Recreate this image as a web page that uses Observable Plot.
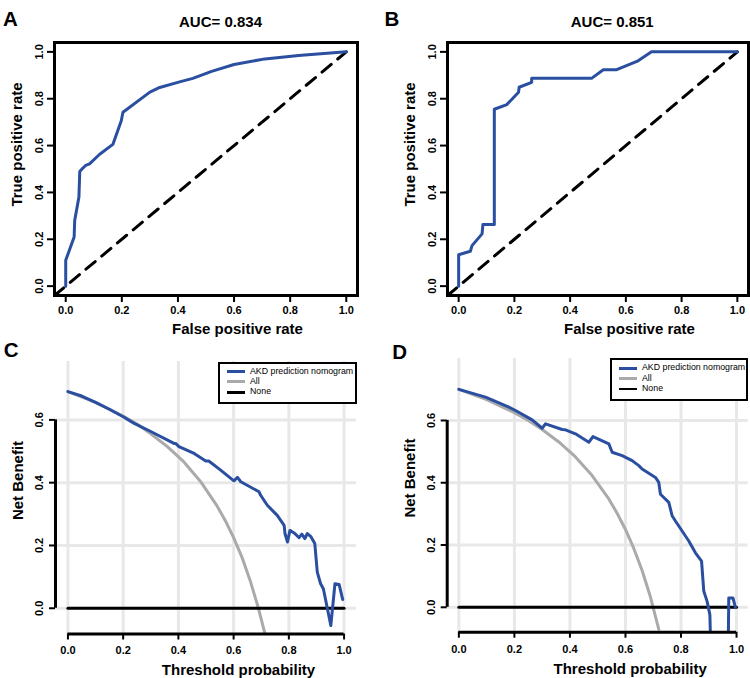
<!DOCTYPE html>
<html>
<head>
<meta charset="utf-8">
<script src="https://cdn.jsdelivr.net/npm/d3@7"></script>
<script src="https://cdn.jsdelivr.net/npm/@observablehq/plot@0.6"></script>
<style>
  body { margin: 0; background: #fff; }
  #fig { position: relative; width: 750px; height: 678px; overflow: hidden; background: #fff;
         font-family: "Liberation Sans", Arial, sans-serif; }
  .panel { position: absolute; }
  .panel svg { overflow: visible; }
  .legend { position: absolute; border: 2px solid #000; background: #fff; box-sizing: border-box;
            font-size: 8.8px; font-family: "Liberation Sans", Arial, sans-serif; color: #000; }
  .legend .row { position: absolute; left: 0; height: 10px; width: 100%; }
  .legend .sw { position: absolute; left: 7px; width: 18px; height: 2.8px; top: 3.6px; }
  .legend .lb { position: absolute; left: 30px; top: -1px; line-height: 11px; white-space: nowrap; }
</style>
</head>
<body>
<div id="fig"></div>
<script>
// ---------------- data ----------------
const rocTicks = [0, 0.2, 0.4, 0.6, 0.8, 1.0];
const dcaXTicks = [0, 0.2, 0.4, 0.6, 0.8, 1.0];
const dcaYTicks = [0, 0.2, 0.4, 0.6];

const aucA = "AUC= 0.834";
const aucB = "AUC= 0.851";
const legendLabels = ["AKD prediction nomogram", "All", "None"];

// ROC, panel A (training)
const rocA_fpr = [0, 0, 0.03, 0.032, 0.047, 0.05, 0.062, 0.071, 0.085, 0.12, 0.168, 0.198, 0.204, 0.3, 0.335, 0.406, 0.453, 0.52, 0.6, 0.71, 0.83, 1.0];
const rocA_tpr = [0, 0.11, 0.21, 0.28, 0.38, 0.489, 0.505, 0.515, 0.522, 0.562, 0.605, 0.706, 0.742, 0.828, 0.848, 0.872, 0.887, 0.917, 0.946, 0.97, 0.985, 1.0];

// ROC, panel B (validation)
const rocB_fpr = [0, 0, 0.042, 0.048, 0.084, 0.087, 0.128, 0.128, 0.173, 0.215, 0.217, 0.262, 0.262, 0.477, 0.519, 0.567, 0.644, 0.692, 1.0];
const rocB_tpr = [0, 0.134, 0.149, 0.173, 0.223, 0.263, 0.263, 0.755, 0.775, 0.828, 0.849, 0.870, 0.887, 0.887, 0.924, 0.924, 0.962, 1.0, 1.0];

// reference diagonal
const diagX = [-0.04, 1.0];
const diagY = [-0.04, 1.0];

// Decision curve, panel C
const dcaC_thr = [0, 0.05, 0.1, 0.15, 0.2, 0.24, 0.3, 0.384, 0.39, 0.402, 0.457, 0.499, 0.51, 0.553, 0.601, 0.614, 0.626, 0.692, 0.698, 0.71, 0.722, 0.758, 0.783, 0.786, 0.795, 0.804, 0.819, 0.837, 0.847, 0.858, 0.867, 0.879, 0.894, 0.903, 0.915, 0.925, 0.952, 0.967, 0.982, 0.995];
const dcaC_nb  = [0.69, 0.676, 0.656, 0.634, 0.61, 0.589, 0.563, 0.525, 0.525, 0.515, 0.493, 0.469, 0.469, 0.44, 0.406, 0.417, 0.403, 0.371, 0.36, 0.344, 0.328, 0.296, 0.264, 0.238, 0.211, 0.248, 0.24, 0.225, 0.236, 0.222, 0.238, 0.229, 0.206, 0.115, 0.078, 0.062, -0.055, 0.078, 0.076, 0.028];
const allC_thr = [0, 0.1, 0.2, 0.25, 0.3, 0.36, 0.42, 0.48, 0.54, 0.57, 0.6, 0.63, 0.66, 0.69, 0.716];
const allC_nb  = [0.69, 0.656, 0.612, 0.587, 0.556, 0.515, 0.466, 0.404, 0.326, 0.279, 0.225, 0.163, 0.088, 0.0, -0.09];

// Decision curve, panel D
const dcaD_thr = [0, 0.096, 0.18, 0.204, 0.264, 0.3, 0.312, 0.372, 0.384, 0.42, 0.468, 0.483, 0.54, 0.552, 0.588, 0.624, 0.648, 0.66, 0.708, 0.72, 0.726, 0.756, 0.768, 0.78, 0.792, 0.828, 0.852, 0.874, 0.882, 0.894, 0.904, 0.912, 0.968, 0.972, 0.987, 0.996];
const dcaD_nb  = [0.70, 0.675, 0.643, 0.632, 0.602, 0.575, 0.589, 0.571, 0.570, 0.557, 0.530, 0.548, 0.525, 0.498, 0.487, 0.471, 0.455, 0.444, 0.417, 0.401, 0.363, 0.337, 0.294, 0.277, 0.261, 0.213, 0.175, 0.148, 0.052, 0.019, -0.024, -0.3, -0.3, 0.030, 0.030, 0.0];
const allD_thr = [0, 0.1, 0.2, 0.25, 0.3, 0.36, 0.42, 0.48, 0.54, 0.57, 0.6, 0.63, 0.66, 0.69, 0.72];
const allD_nb  = [0.70, 0.667, 0.625, 0.6, 0.571, 0.531, 0.483, 0.423, 0.348, 0.302, 0.25, 0.189, 0.118, 0.033, -0.071];

const none_thr = [0, 1.0];
const none_nb  = [0, 0];

// ---------------- style ----------------
const BLUE = "#2a4fa0";
const GRAY = "#aaaaaa";
const GRID = "#e8e8e8";
const FONT = "Liberation Sans, Arial, sans-serif";
const fmt = d3.format(".1f");
const zip = (xs, ys) => xs.map((x, i) => ({x, y: ys[i]}));

const fig = document.getElementById("fig");

function mount(svg, ox, oy) {
  const div = document.createElement("div");
  div.className = "panel";
  div.style.left = ox + "px";
  div.style.top = oy + "px";
  div.appendChild(svg);
  fig.appendChild(div);
}

function base(cfg) {
  const W = 375, H = 339;
  const f = cfg.frame;
  const at = (px, py) => ({frameAnchor: "top-left", dx: px - f.l, dy: py - f.t});
  return {
    W, H, at,
    opts: {
      width: W, height: H,
      marginLeft: f.l - cfg.ox, marginRight: cfg.ox + W - f.r,
      marginTop: f.t - cfg.oy, marginBottom: cfg.oy + H - f.b,
      style: {fontFamily: FONT, background: "transparent", overflow: "visible", color: "#000"},
      x: {domain: cfg.xd}, y: {domain: cfg.yd}
    }
  };
}

function commonText(cfg, at, yTicks, xTicks) {
  const f = cfg.frame;
  return [
    // y tick labels (rotated, as in base R)
    Plot.text(yTicks, {y: d => d, text: d => fmt(d), frameAnchor: "left", dx: cfg.yTickX - f.l,
      rotate: -90, textAnchor: "middle", lineAnchor: "middle", fontSize: 11, fontWeight: "bold", fontFamily: FONT, fill: "#000"}),
    // x tick labels
    Plot.text(xTicks, {x: d => d, text: d => fmt(d), frameAnchor: "bottom", dy: cfg.xTickY - f.b,
      textAnchor: "middle", lineAnchor: "middle", fontSize: 11, fontWeight: "bold", fontFamily: FONT, fill: "#000"}),
    // x title
    Plot.text([cfg.xTitle], {...at(cfg.xTitlePos[0], cfg.xTitlePos[1]), text: d => d, textAnchor: "middle",
      lineAnchor: "bottom", fontSize: 15, fontWeight: "bold", fontFamily: FONT, fill: "#000"}),
    // y title
    Plot.text([cfg.yTitle], {...at(cfg.yTitlePos[0], cfg.yTitlePos[1]), text: d => d, rotate: -90, textAnchor: "middle",
      lineAnchor: "middle", fontSize: 15, fontWeight: "bold", fontFamily: FONT, fill: "#000"}),
    // panel letter
    Plot.text([cfg.letter], {...at(cfg.letterPos[0], cfg.letterPos[1]), text: d => d, textAnchor: "start",
      lineAnchor: "bottom", fontSize: 20.5, fontWeight: "bold", fontFamily: FONT, fill: "#000"})
  ];
}

function rocPanel(cfg) {
  const {at, opts} = base(cfg);
  const marks = [
    Plot.line(zip(diagX, diagY), {x: "x", y: "y", stroke: "#000", strokeWidth: 3, strokeDasharray: "12,8.5"}),
    Plot.line(zip(cfg.fpr, cfg.tpr), {x: "x", y: "y", stroke: BLUE, strokeWidth: 3, strokeLinejoin: "round"}),
    Plot.frame({stroke: "#000", strokeWidth: 3}),
    Plot.axisX({ticks: rocTicks, tickSize: 7, tickFormat: () => "", label: null, strokeWidth: 2}),
    Plot.axisY({ticks: rocTicks, tickSize: 7, tickFormat: () => "", label: null, strokeWidth: 2}),
    ...commonText(cfg, at, rocTicks, rocTicks),
    Plot.text([cfg.title], {...at(cfg.titlePos[0], cfg.titlePos[1]), text: d => d, textAnchor: "middle",
      lineAnchor: "bottom", fontSize: 15, fontWeight: "bold", fontFamily: FONT, fill: "#000"})
  ];
  return Plot.plot({...opts, marks});
}

function dcaPanel(cfg) {
  const {at, opts} = base(cfg);
  const marks = [
    Plot.gridX({ticks: dcaXTicks, stroke: GRID, strokeOpacity: 1, strokeWidth: 3}),
    Plot.gridY({ticks: dcaYTicks, stroke: GRID, strokeOpacity: 1, strokeWidth: 3}),
    Plot.line(zip(cfg.allX, cfg.allY), {x: "x", y: "y", stroke: GRAY, strokeWidth: 3, clip: true}),
    Plot.line(zip(none_thr, none_nb), {x: "x", y: "y", stroke: "#000", strokeWidth: 3}),
    Plot.line(zip(cfg.nbX, cfg.nbY), {x: "x", y: "y", stroke: BLUE, strokeWidth: 3, clip: true, strokeLinejoin: "round"}),
    // axis lines spanning the tick range (base-R style)
    Plot.ruleX([cfg.xd[0]], {y1: dcaYTicks[0], y2: dcaYTicks[dcaYTicks.length - 1], stroke: "#000", strokeWidth: 3}),
    Plot.ruleY([cfg.yd[0]], {x1: dcaXTicks[0], x2: dcaXTicks[dcaXTicks.length - 1], stroke: "#000", strokeWidth: 3}),
    Plot.axisX({ticks: dcaXTicks, tickSize: 6, tickFormat: () => "", label: null, strokeWidth: 2}),
    Plot.axisY({ticks: dcaYTicks, tickSize: 6, tickFormat: () => "", label: null, strokeWidth: 2}),
    ...commonText(cfg, at, dcaYTicks, dcaXTicks)
  ];
  return Plot.plot({...opts, marks});
}

function legend(box) {
  const el = document.createElement("div");
  el.className = "legend";
  el.style.left = box.l + "px";
  el.style.top = box.t + "px";
  el.style.width = box.w + "px";
  el.style.height = box.h + "px";
  const colors = [BLUE, GRAY, "#000"];
  legendLabels.forEach((lab, i) => {
    const row = document.createElement("div");
    row.className = "row";
    row.style.top = (3 + i * 10.4) + "px";
    const sw = document.createElement("div");
    sw.className = "sw";
    sw.style.background = colors[i];
    const lb = document.createElement("div");
    lb.className = "lb";
    lb.textContent = lab;
    row.appendChild(sw);
    row.appendChild(lb);
    el.appendChild(row);
  });
  fig.appendChild(el);
}

// ---------------- panels ----------------
const cfgA = {ox: 0, oy: 0, frame: {l: 54, r: 357, t: 42, b: 295}, xd: [-0.04, 1.04], yd: [-0.04, 1.04],
  fpr: rocA_fpr, tpr: rocA_tpr, title: aucA, titlePos: [220, 26], letter: "A", letterPos: [2.5, 25],
  xTitle: "False positive rate", xTitlePos: [237, 333.5], yTitle: "True positive rate", yTitlePos: [17, 144],
  yTickX: 39.3, xTickY: 310};
const cfgB = {ox: 375, oy: 0, frame: {l: 447, r: 748, t: 42, b: 295}, xd: [-0.04, 1.04], yd: [-0.04, 1.04],
  fpr: rocB_fpr, tpr: rocB_tpr, title: aucB, titlePos: [611.7, 26], letter: "B", letterPos: [384, 25],
  xTitle: "False positive rate", xTitlePos: [629, 333.5], yTitle: "True positive rate", yTitlePos: [410, 144],
  yTickX: 431.7, xTickY: 310};
const cfgC = {ox: 0, oy: 339, frame: {l: 55, r: 356, t: 361, b: 633.5}, xd: [-0.045, 1.045], yd: [-0.082, 0.786],
  nbX: dcaC_thr, nbY: dcaC_nb, allX: allC_thr, allY: allC_nb, letter: "C", letterPos: [3.3, 356],
  xTitle: "Threshold probability", xTitlePos: [238, 674], yTitle: "Net Benefit", yTitlePos: [18, 480],
  yTickX: 39, xTickY: 650};
const cfgD = {ox: 375, oy: 339, frame: {l: 446.7, r: 747.7, t: 358, b: 631.7}, xd: [-0.042, 1.042], yd: [-0.08, 0.799],
  nbX: dcaD_thr, nbY: dcaD_nb, allX: allD_thr, allY: allD_nb, letter: "D", letterPos: [391.7, 358],
  xTitle: "Threshold probability", xTitlePos: [629.7, 673.3], yTitle: "Net Benefit", yTitlePos: [410, 477.5],
  yTickX: 431, xTickY: 648.5};

mount(rocPanel(cfgA), cfgA.ox, cfgA.oy);
mount(rocPanel(cfgB), cfgB.ox, cfgB.oy);
mount(dcaPanel(cfgC), cfgC.ox, cfgC.oy);
mount(dcaPanel(cfgD), cfgD.ox, cfgD.oy);

legend({l: 218, t: 361.5, w: 139, h: 42});
legend({l: 610, t: 358.3, w: 138, h: 42.4});
</script>
</body>
</html>
